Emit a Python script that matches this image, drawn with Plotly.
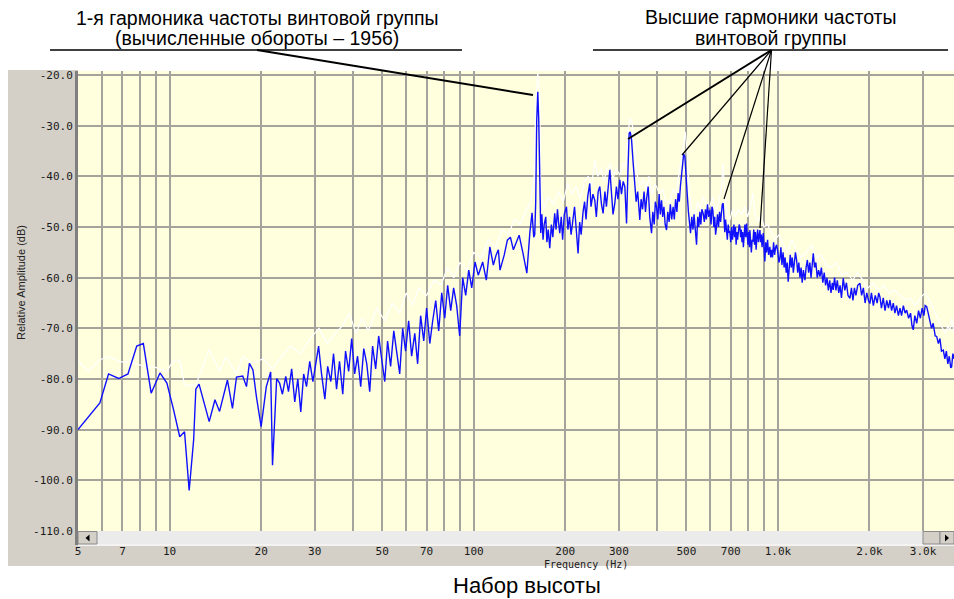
import math
import plotly.graph_objects as go

# ---------------- data ----------------
# blue trace: current spectrum
blue_low_hz = [5.0, 5.9, 6.3, 6.8, 7.3, 7.8, 8.2, 8.7, 9.3, 9.8, 10.3, 10.8, 11.2, 11.6, 12.0, 12.2, 12.5,
               13.5, 14.1, 14.6, 15.5, 16.1, 16.6, 17.4, 17.9, 18.3, 18.8, 19.3, 20.0, 20.8, 21.5, 21.8, 22.5, 23.0]
blue_low_db = [-90.0, -84.7, -79.0, -79.9, -79.0, -73.5, -73.0, -82.8, -78.8, -80.8, -86.0, -91.4, -90.4, -102.0, -92.0, -82.0, -81.0,
               -88.4, -84.1, -86.4, -80.2, -85.8, -79.6, -79.4, -81.5, -76.9, -78.2, -83.5, -89.4, -81.5, -78.6, -97.0, -79.9, -80.8]

blue_mid_hz = [23.5, 24.1, 24.6, 25.2, 25.8, 26.4, 27.0, 27.6, 28.2, 28.9, 29.6, 30.2, 30.9, 31.6, 32.4, 33.1, 33.9, 34.6,
               35.4, 36.2, 37.1, 37.9, 38.8, 39.7, 40.6, 41.5, 42.5, 43.5, 44.5, 45.5, 46.5, 47.6, 48.7, 49.8, 51.0, 52.1,
               53.3, 54.6, 55.8, 57.1, 58.4, 59.7, 61.1, 62.5, 64.0, 65.4, 66.9, 68.5, 70.0, 71.7, 73.3, 75.0, 76.7, 78.5,
               80.3, 82.1, 84.0, 85.9, 87.9, 89.9, 92.0, 94.1, 96.3, 98.5, 101, 103.5, 107, 110, 113, 116, 118.5, 120.5,
               122, 126, 129, 132, 135, 138, 141, 145, 149.5, 153, 155.5, 157.5]
blue_mid_db = [-83.0, -79.5, -82.5, -78.0, -84.5, -80.0, -86.5, -79.0, -81.5, -76.5, -80.5, -77.0, -73.5, -79.0, -84.0, -77.5, -80.5, -75.0,
               -82.0, -76.5, -83.0, -74.5, -78.5, -72.0, -79.0, -75.5, -81.5, -74.0, -77.0, -82.5, -73.5, -78.0, -71.5, -76.0, -80.5, -72.5,
               -77.5, -70.5, -75.0, -79.0, -70.0, -74.5, -68.5, -75.5, -71.0, -77.0, -67.5, -72.5, -66.0, -73.0, -68.5, -64.5, -70.5, -63.0,
               -68.0, -61.5, -66.5, -62.0, -65.5, -71.5, -60.0, -63.5, -58.5, -62.0, -56.9, -59.5, -56.9, -60.5, -53.9, -57.5, -55.5, -54.5,
               -58.5, -55.5, -52.6, -52.0, -54.5, -53.0, -51.6, -55.0, -59.1, -51.0, -47.2, -52.0]

blue_peak_hz = [158.7, 159.9, 160.5, 161.1, 162.4, 163.6, 164.8, 166.1]
blue_peak_db = [-51.5, -45.0, -36.0, -29.0, -23.3, -28.9, -39.4, -51.2]

blue_high_hz = [167.5, 169, 170.5, 172.5, 174, 175.8, 177.8, 180, 182, 184.6, 186.5, 188.5, 190, 191.8, 194, 196, 198.5,
                201.8, 204, 206.5, 209, 212.1, 214.5, 217, 220.3, 223, 225.5, 228.8, 231.5, 234, 237, 240.7, 243, 246.5,
                250, 253, 256.5, 259.7, 263, 266.3, 270, 273, 276.5, 280.2, 283.5, 287, 291, 294.5, 298, 302.2, 306, 310,
                313.9, 318, 321, 324.3, 327, 330.3, 334, 338.6, 342, 346, 351.6, 355, 359, 363, 367, 370, 374.5, 379,
                384.2, 388, 392, 395.5, 399, 403, 407, 410.5, 414.4, 418, 422, 426, 430.4, 434.5, 439, 443, 447.5, 452.4,
                456.5, 461, 465.5, 469.9, 474, 478, 482, 485.9, 490, 494.5, 499, 503.1, 508, 512, 516.2, 521, 526, 530,
                535, 540.2, 545, 549.5, 554, 558, 562.5, 567.9, 573, 578, 582, 587, 592, 597.4, 603, 607, 611, 616, 620,
                624, 628.6, 633, 638, 643, 648, 652.5, 656.5, 660.8, 665, 669, 673, 678.1, 682, 686.5, 690, 695, 700,
                705, 709, 712.9, 717, 721, 725, 729, 733, 737, 742, 746, 749.9, 754, 758, 762, 766, 770, 775, 779, 784,
                789, 793, 797, 802, 806, 808.8, 813, 818, 823, 828, 833, 838, 843, 848, 853, 858, 863, 868, 872.7, 877,
                882, 887, 891, 895, 900, 906, 912, 918, 925, 932, 941, 947, 953, 960, 968, 975, 983, 990, 1000, 1008,
                1015, 1023, 1031, 1040, 1048, 1056, 1065, 1073, 1081, 1090, 1098, 1106, 1115, 1124, 1133, 1142, 1152,
                1162, 1172, 1182, 1192, 1202, 1213, 1227, 1238, 1250, 1262, 1274, 1285, 1297, 1307, 1320, 1333, 1347,
                1361, 1375, 1390, 1405, 1420, 1435, 1450, 1465, 1480, 1495, 1510, 1520, 1536, 1552, 1568, 1585, 1601,
                1618, 1640, 1660, 1680, 1700, 1725, 1745, 1765, 1785, 1805, 1830, 1861, 1885, 1910, 1935, 1960, 1985,
                2007, 2030, 2060, 2090, 2120, 2145, 2165, 2190, 2220, 2250, 2280, 2310, 2336, 2365, 2395, 2425, 2455,
                2490, 2520, 2550, 2585, 2620, 2651, 2690, 2730, 2760, 2787, 2820, 2860, 2900, 2940, 2980, 3020, 3050,
                3084, 3120, 3162, 3200, 3240, 3290, 3327, 3370, 3410, 3450, 3498, 3540, 3580, 3620, 3660, 3700, 3725,
                3760, 3793]
blue_high_db = [-47.5, -52.5, -49.5, -48.0, -53.0, -50.5, -54.2, -49.5, -52.0, -47.3, -50.5, -46.5, -49.0, -51.2, -48.0, -52.5, -47.5,
                -46.0, -50.5, -48.0, -51.5, -48.6, -46.0, -50.0, -55.2, -49.0, -51.5, -47.0, -45.0, -48.5, -44.0, -41.4, -46.0, -43.5,
                -44.7, -48.0, -43.0, -42.0, -45.5, -47.3, -43.0, -46.0, -41.5, -38.7, -43.0, -47.5, -45.3, -42.0, -44.5, -40.7, -43.5, -41.0,
                -42.0, -49.3, -40.0, -31.5, -31.2, -32.8, -37.0, -41.4, -45.0, -43.0, -48.6, -44.5, -46.5, -43.0, -47.0, -44.5, -42.0, -48.0,
                -51.2, -47.0, -49.5, -45.0, -46.0, -48.5, -43.5, -47.5, -44.7, -48.0, -46.0, -49.5, -50.6, -47.0, -49.0, -45.5, -48.5, -46.0,
                -48.5, -44.5, -47.0, -43.3, -45.0, -42.0, -40.0, -36.8, -35.6, -36.1, -39.0, -43.3, -47.0, -49.0, -51.2, -48.0, -50.5, -47.5,
                -51.5, -53.5, -48.0, -50.0, -47.0, -49.5, -46.5, -47.3, -49.0, -46.5, -48.5, -45.5, -48.0, -46.6, -49.5, -46.0, -46.6, -50.0, -48.0,
                -51.5, -49.9, -47.5, -50.0, -47.0, -49.0, -46.5, -45.5, -45.3, -49.0, -51.0, -48.5, -50.6, -52.5, -49.5, -51.0, -50.9, -53.0,
                -50.0, -52.5, -51.2, -49.5, -52.0, -50.0, -53.5, -51.0, -52.5, -50.0, -49.5, -49.9, -52.0, -50.5, -53.0, -51.0, -54.0, -51.5, -49.5, -52.0,
                -49.3, -51.5, -53.5, -51.0, -54.0, -50.6, -52.0, -55.0, -52.5, -52.9, -50.5, -53.5, -51.0, -54.5, -52.0, -50.5, -53.0, -51.5, -50.6, -53.0,
                -51.5, -54.0, -52.0, -51.2, -54.0, -56.8, -53.0, -55.0, -52.5, -55.5, -53.9, -56.0, -54.5, -56.0, -53.0, -55.5, -54.0, -53.5, -55.0, -57.0,
                -56.2, -54.0, -57.5, -55.0, -58.0, -56.0, -59.0, -57.0, -60.8, -57.0, -55.5, -58.0, -56.0, -59.0, -57.5, -55.0, -56.5,
                -59.0, -57.0, -60.0, -58.0, -61.0, -58.5, -60.5, -58.0, -56.5, -59.0, -57.0, -60.0, -56.5, -55.2, -58.0, -57.0, -60.0,
                -58.5, -59.8, -58.0, -61.0, -59.0, -61.5, -60.0, -62.5, -60.5, -63.0, -61.0, -62.4, -60.0, -62.5, -60.5, -63.0, -61.5,
                -64.0, -60.1, -62.5, -61.0, -63.5, -64.1, -62.0, -64.5, -62.0, -63.5, -61.5, -61.1, -63.5, -62.0, -65.0, -63.0, -64.5,
                -65.1, -63.0, -65.5, -63.5, -65.0, -63.0, -63.8, -66.0, -64.0, -66.5, -64.5, -66.0, -64.4, -66.5, -65.0, -67.0, -65.5,
                -67.5, -66.0, -67.5, -65.5, -67.0, -66.4, -68.0, -67.0, -69.5, -70.3, -67.5, -69.0, -66.5, -68.0, -66.0, -67.5, -65.5,
                -65.7, -67.0, -68.4, -70.0, -69.0, -71.5, -71.6, -73.0, -72.0, -74.5, -74.3, -76.0, -74.5, -77.0, -75.5, -77.8, -77.6,
                -75.0, -76.0]

# white trace: peak hold
white_low_hz = [5.0, 5.4, 5.9, 6.3, 6.9, 7.5, 8.3, 8.9, 9.8, 10.3, 10.8, 11.2, 12.2, 13.5, 14.6, 15.3, 16.6, 17.4, 18.8,
                20.3, 21.8, 23, 25, 27, 29, 31, 33, 35, 37, 39, 41, 43, 45, 48, 51, 54, 57, 60, 63, 66, 70, 74, 78, 82,
                86, 90, 95, 100, 106, 112, 118, 124, 130, 136, 142, 148, 154, 158, 160, 162.4, 164.8]
white_low_db = [-76.4, -78.5, -76.2, -75.6, -76.6, -76.6, -77.6, -77.6, -78.5, -76.3, -76.3, -81.2, -81.2, -74.1, -78.5, -75.6, -79.0, -75.6, -76.9,
                -76.0, -78.0, -76.0, -73.5, -75.0, -72.0, -70.0, -73.0, -71.0, -69.5, -67.0, -71.0, -68.0, -70.5, -66.0, -68.5, -65.0, -67.0, -63.0, -65.5, -62.0, -63.5, -60.5, -61.5, -58.0,
                -60.0, -57.0, -58.5, -55.0, -56.0, -52.5, -54.0, -50.5, -51.5, -48.5, -49.5, -47.0, -45.0, -40.0, -25.0, -19.7, -24.0]
white_high_hz = [166, 170, 176, 183, 190, 197, 204, 210, 217, 224, 231, 238, 244, 250, 256, 263, 268, 274, 281, 287, 294, 302,
                 309, 316, 322, 327, 332, 337, 344, 352, 360, 369, 377, 386, 394, 399, 408, 418, 428, 442, 452, 462, 472, 482,
                 490, 496, 502, 510, 520, 532, 545, 556, 568, 580, 597, 610, 625, 640, 652, 660, 668, 680, 695, 710, 725, 740,
                 760, 778, 795, 812, 828, 840, 860, 880, 900, 925, 950, 980, 1010, 1040, 1075, 1110, 1150, 1190, 1240, 1290,
                 1340, 1390, 1440, 1500, 1560, 1620, 1690, 1760, 1830, 1900, 1980, 2060, 2140, 2230, 2320, 2420, 2520, 2620,
                 2720, 2830, 2940, 3050, 3150, 3260, 3380, 3480, 3560, 3620, 3680, 3730, 3793]
white_high_db = [-42.0, -46.5, -44.0, -45.5, -43.0, -45.0, -41.3, -43.5, -42.0, -44.5, -41.0, -40.0, -42.0, -36.8, -40.0, -38.5, -41.0, -38.7, -37.5, -40.5, -38.5, -39.7,
                 -37.5, -38.0, -31.0, -28.5, -29.5, -34.0, -39.5, -42.0, -40.5, -42.5, -40.0, -43.5, -41.5, -42.0, -43.5, -42.5, -45.0, -45.0, -42.5, -43.5, -40.0, -36.0,
                 -33.0, -31.2, -34.5, -42.0, -46.5, -48.0, -45.0, -46.5, -44.0, -45.5, -46.0, -44.0, -47.0, -45.0, -42.0, -37.4, -43.0, -47.5, -48.6, -46.5, -48.0, -46.5,
                 -47.5, -46.0, -48.0, -46.0, -43.3, -47.5, -49.0, -47.5, -50.0, -49.5, -51.0, -52.5, -51.5, -53.5, -55.0, -52.5, -54.5, -56.0, -55.0, -53.5,
                 -56.0, -55.5, -57.5, -58.0, -57.0, -59.5, -59.0, -60.5, -59.0, -60.5, -62.0, -61.0, -62.5, -61.5, -63.0, -62.5, -63.5, -64.5,
                 -64.0, -65.5, -64.0, -63.0, -64.5, -66.5, -68.5, -70.0, -71.0, -69.5, -70.5, -68.0, -71.0]

# axis ticks
x_tick_vals = [5, 7, 10, 20, 30, 50, 70, 100, 200, 300, 500, 700, 1000, 2000, 3000]
x_tick_text = ["5", "7", "10", "20", "30", "50", "70", "100", "200", "300", "500", "700", "1.0k", "2.0k", "3.0k"]
x_minor_vals = [6, 8, 9, 40, 60, 80, 90, 400, 600, 800, 900]
y_tick_vals = [-20, -30, -40, -50, -60, -70, -80, -90, -100, -110]
y_tick_text = ["-20.0", "-30.0", "-40.0", "-50.0", "-60.0", "-70.0", "-80.0", "-90.0", "-100.0", "-110.0"]
x_limits = [5, 3793]
y_limits = [-110, -19.2]

# ---------------- figure ----------------
W, H = 954, 599
ML, MR, MT, MB = 78, 0, 71, 68
PW, PH = W - ML - MR, H - MT - MB


def px(x):
    return (x - ML) / PW


def py(y):
    return (H - MB - y) / PH


blue_hz = blue_low_hz + blue_mid_hz + blue_peak_hz + blue_high_hz
blue_db = blue_low_db + blue_mid_db + blue_peak_db + blue_high_db
white_hz = white_low_hz + white_high_hz
white_db = white_low_db + white_high_db

fig = go.Figure()
fig.add_trace(go.Scatter(x=white_hz, y=white_db, mode="lines",
                         line=dict(color="#ffffff", width=1.2), hoverinfo="skip"))
fig.add_trace(go.Scatter(x=blue_hz, y=blue_db, mode="lines",
                         line=dict(color="#1010ff", width=1.4)))

GRID = "#a4a49c"
FRAME = "#d4d0c8"
tickfont = dict(family="DejaVu Sans Mono", size=11, color="#1a1a1a")
TITLE_FONT = dict(family="Liberation Sans", size=19.5, color="#000000")

shapes = []
# grey window frame (outside plot area)
shapes.append(dict(type="rect", xref="paper", yref="paper", x0=px(8), x1=0, y0=py(566), y1=py(70),
                   fillcolor=FRAME, line=dict(width=0), layer="below"))
shapes.append(dict(type="rect", xref="paper", yref="paper", x0=0, x1=1, y0=py(566), y1=0,
                   fillcolor=FRAME, line=dict(width=0), layer="below"))
# scrollbar track
shapes.append(dict(type="rect", xref="paper", yref="paper", x0=0, x1=1, y0=py(544), y1=0,
                   fillcolor="#ebebeb", line=dict(width=0), layer="below"))
shapes.append(dict(type="line", xref="paper", yref="paper", x0=0, x1=1, y0=py(545), y1=py(545),
                   line=dict(color="#ffffff", width=1.5), layer="below"))
# scrollbar buttons
for a, b in [(78, 97), (923, 940), (940, 954)]:
    shapes.append(dict(type="rect", xref="paper", yref="paper", x0=px(a), x1=px(b), y0=py(544), y1=py(531.5),
                       fillcolor=FRAME, line=dict(color="#8a8a8a", width=1), layer="below"))
shapes.append(dict(type="path", xref="paper", yref="paper",
                   path=f"M {px(89.5)} {py(534.5)} L {px(89.5)} {py(541.5)} L {px(85.5)} {py(538)} Z",
                   fillcolor="#000000", line=dict(width=0), layer="below"))
shapes.append(dict(type="path", xref="paper", yref="paper",
                   path=f"M {px(945)} {py(534.5)} L {px(945)} {py(541.5)} L {px(949)} {py(538)} Z",
                   fillcolor="#000000", line=dict(width=0), layer="below"))
# left axis line extension
shapes.append(dict(type="line", xref="paper", yref="paper", x0=px(76.5), x1=px(76.5), y0=0, y1=py(545),
                   line=dict(color="#7f7f7f", width=3), layer="below"))

# annotation leader lines
shapes.append(dict(type="line", xref="paper", yref="paper", x0=px(50), x1=px(462), y0=py(50), y1=py(50),
                   line=dict(color="#000000", width=1.3)))
shapes.append(dict(type="line", xref="paper", yref="paper", x0=px(257), x1=px(533), y0=py(50), y1=py(95),
                   line=dict(color="#000000", width=2)))
shapes.append(dict(type="line", xref="paper", yref="paper", x0=px(593), x1=px(948), y0=py(50), y1=py(50),
                   line=dict(color="#000000", width=1.3)))
apex = 771.5
for (ex, ey, w) in [(628, 139, 2), (682, 155, 1.2), (724, 199, 1.2), (760, 228, 1.2)]:
    shapes.append(dict(type="line", xref="paper", yref="paper", x0=px(apex), x1=px(ex), y0=py(50), y1=py(ey),
                       line=dict(color="#000000", width=w)))


def label(text, x, y, font, **kw):
    d = dict(text=text, xref="paper", yref="paper", x=px(x), y=py(y), xanchor="center",
             yanchor="middle", showarrow=False, font=font)
    d.update(kw)
    return d


annotations = [
    label("1-я гармоника частоты винтовой группы", 257, 18, TITLE_FONT),
    label("(вычисленные обороты – 1956)", 257, 38, TITLE_FONT),
    label("Высшие гармоники частоты", 771, 17, TITLE_FONT),
    label("винтовой группы", 771, 38, TITLE_FONT),
    label("Набор высоты", 527, 585, dict(family="Liberation Sans", size=22, color="#000000")),
    label("Relative Amplitude (dB)", 21, 283, dict(family="Liberation Sans", size=11, color="#222222"),
          textangle=-90),
    label("Frequency (Hz)", 586, 557, dict(family="DejaVu Sans Mono", size=10, color="#1a1a1a"),
          yanchor="top"),
]

fig.update_layout(
    width=W, height=H,
    margin=dict(l=ML, r=MR, t=MT, b=MB, pad=0),
    paper_bgcolor="#ffffff",
    plot_bgcolor="#ffffdd",
    showlegend=False,
    shapes=shapes,
    annotations=annotations,
    xaxis=dict(type="log", range=[math.log10(x_limits[0]), math.log10(x_limits[1])],
               tickmode="array", tickvals=x_tick_vals, ticktext=x_tick_text,
               showgrid=True, gridcolor=GRID, gridwidth=2, ticks="", showline=False, zeroline=False,
               tickfont=tickfont, ticklabelstandoff=12,
               minor=dict(tickmode="array", tickvals=x_minor_vals, showgrid=True,
                          gridcolor=GRID, gridwidth=2, ticks="")),
    yaxis=dict(range=y_limits, tickmode="array", tickvals=y_tick_vals, ticktext=y_tick_text,
               showgrid=True, gridcolor=GRID, gridwidth=2, ticks="", zeroline=False,
               showline=True, linecolor="#7f7f7f", linewidth=3, tickfont=tickfont),
)

fig.write_html("out.html", config={"displayModeBar": False},
               post_script="document.body.style.margin='0px';document.body.style.overflow='hidden';")
